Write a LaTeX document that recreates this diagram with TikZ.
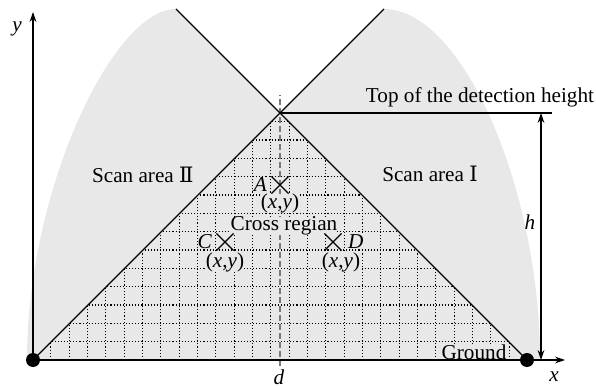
\documentclass[tikz,border=0pt]{standalone}
\usepackage{fontspec}
\setmainfont{Liberation Serif}
\newfontfamily\romfont{DejaVu Serif}
\usepackage{tikz}
\usetikzlibrary{arrows.meta,positioning,shapes.misc}
\definecolor{scangray}{RGB}{232,232,232}
\definecolor{dline}{RGB}{120,120,120}

\begin{document}
\begin{tikzpicture}[x=0.5pt,y=0.5pt,font=\fontsize{10.6}{12}\selectfont,>={Stealth[length=5pt,width=3.4pt]},
  axis/.style={line width=0.9pt},
  beam/.style={line width=0.7pt},
  gridline/.style={line width=0.55pt,dash pattern=on 0.55pt off 1pt},
  xmark/.style={draw,cross out,line width=0.6pt,minimum size=8pt,inner sep=0pt},
  tag/.style={fill=scangray,inner sep=0pt},
  grounddot/.style={circle,fill,minimum size=7pt,inner sep=0pt}]

  \useasboundingbox (-33,-26) rectangle (563,360);

  \coordinate (O) at (0,0);
  \coordinate (R) at (494,0);
  \coordinate (P) at (247,247);
  \coordinate (lobeL) at (143,351);
  \coordinate (lobeR) at (351,351);
  \coordinate (yend) at (0,348);
  \coordinate (xend) at (532,0);
  \coordinate (topend) at (519,247);
  \coordinate (htop) at (508,247);
  \coordinate (hbot) at (508,0);
  \coordinate (dtop) at (247,265);
  \coordinate (dbot) at (247,-6);

  % scan areas
  \fill[scangray] (-6,0) .. controls (-6,170) and (80,351) .. (lobeL) -- (P) -- (lobeR)
        .. controls (430,351) and (507,170) .. (507,0) -- cycle;

  % grid of the cross region
  \begin{scope}
    \clip (O) -- (P) -- (R) -- cycle;
    \foreach \k in {1,...,13}
      \draw[gridline] (0,{\k*18.33}) -- (494,{\k*18.33});
    \foreach \j in {-13,...,13}
      \draw[gridline] ({256.17+\j*18.33},0) -- ({256.17+\j*18.33},250);
  \end{scope}

  \draw[dline,line width=0.6pt,dash pattern=on 3pt off 1.5pt] (dbot) -- (dtop);

  \draw[beam] (O) -- (lobeR);
  \draw[beam] (R) -- (lobeL);
  \draw[axis,->] (O) -- (yend);
  \draw[axis,->] (O) -- (xend);
  \draw[beam] (P) -- (topend);
  \draw[line width=0.6pt,<->] (hbot) -- (htop);

  \node[grounddot] (dotL) at (O) {};
  \node[grounddot] (dotR) at (R) {};

  \node (top) at (447,263) {Top of the detection height};
  \node[anchor=west] (scanII) at (52,185) {Scan area {\romfont Ⅱ}};
  \node (scanI) at (397,186) {Scan area {\romfont Ⅰ}};
  \node[tag] (cross) at (251,134) {Cross regian};
  \node[tag] (ground) at (441,8) {Ground};

  \node[xmark] (markA) at (247,175) {};
  \node[tag,left=2pt of markA] (labA) {\textit{A}};
  \node[tag,below=0pt of markA] (xyA) {(\textit{x},\textit{y})};

  \node[xmark] (markC) at (192,118) {};
  \node[tag,left=2pt of markC] (labC) {\textit{C}};
  \node[tag,below=1pt of markC] (xyC) {(\textit{x},\textit{y})};

  \node[xmark] (markD) at (300,118) {};
  \node[tag,right=3pt of markD] (labD) {\textit{D}};
  \node[tag,below=1pt of markD,xshift=4pt] (xyD) {(\textit{x},\textit{y})};

  \node (labd) at (246,-17) {\textit{d}};
  \node (labx) at (521,-17) {\textit{x}};
  \node (laby) at (-16,331) {\textit{y}};
  \node (labh) at (497,138) {\textit{h}};

\end{tikzpicture}
\end{document}
